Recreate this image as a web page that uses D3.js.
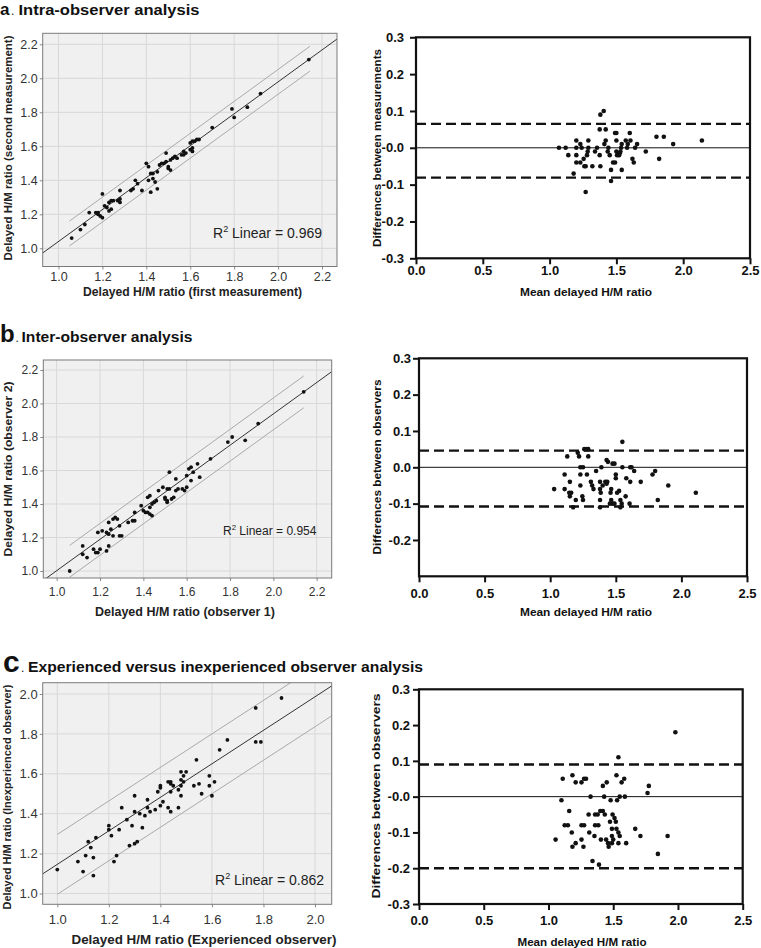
<!DOCTYPE html>
<html><head><meta charset="utf-8">
<script src="https://cdn.jsdelivr.net/npm/d3@7"></script>
<style>
body{margin:0;background:#fff}
svg{display:block}
text{font-family:"Liberation Sans",Arial,sans-serif}
</style>
</head><body>
<svg id="chart" width="761" height="948"></svg>
<script>
// ---------- DATA ----------
const scatterTicksAB = [1.0,1.2,1.4,1.6,1.8,2.0,2.2];
const scatterTicksC = [1.0,1.2,1.4,1.6,1.8,2.0];
const baXTicks = [0,0.5,1.0,1.5,2.0,2.5];
const baXLabels = ["0.0","0.5","1.0","1.5","2.0","2.5"];
const baYTicksAC = [0.3,0.2,0.1,0,-0.1,-0.2,-0.3];
const baYLabelsAC = ["0.3","0.2","0.1","-0.0","-0.1","-0.2","-0.3"];
const baYTicksB = [0.3,0.2,0.1,0,-0.1,-0.2];
const baYLabelsB = ["0.3","0.2","0.1","0.0","-0.1","-0.2"];

// panel a: intra-observer (first, second measurement)
const aScatter = [[1.06,1.06],[1.10,1.11],[1.12,1.14],[1.14,1.21],[1.17,1.21],[1.18,1.20],[1.19,1.19],[1.20,1.18],[1.18,1.21],[1.20,1.32],[1.21,1.25],[1.22,1.24],[1.23,1.27],[1.24,1.28],[1.23,1.22],[1.24,1.23],[1.25,1.28],[1.27,1.28],[1.28,1.34],[1.28,1.29],[1.28,1.27],[1.33,1.34],[1.34,1.35],[1.35,1.40],[1.36,1.38],[1.38,1.34],[1.40,1.50],[1.41,1.40],[1.41,1.48],[1.42,1.33],[1.42,1.44],[1.43,1.44],[1.43,1.41],[1.44,1.39],[1.45,1.35],[1.45,1.45],[1.46,1.49],[1.47,1.50],[1.48,1.50],[1.49,1.51],[1.49,1.56],[1.50,1.48],[1.50,1.47],[1.51,1.52],[1.51,1.46],[1.52,1.53],[1.53,1.54],[1.54,1.53],[1.56,1.55],[1.57,1.57],[1.57,1.55],[1.58,1.56],[1.60,1.58],[1.61,1.59],[1.61,1.57],[1.60,1.62],[1.61,1.63],[1.62,1.63],[1.63,1.64],[1.64,1.64],[1.70,1.71],[1.79,1.82],[1.80,1.77],[1.86,1.83],[1.92,1.91],[2.14,2.11]];
const aFit = [0.101, 0.939];          // intercept, slope
const aBand = [0.073, 1.05, 2.145];   // half width, x from, x to
const aR2 = "0.969";
const aBA = [[1.07,0.00],[1.12,0.00],[1.14,-0.02],[1.18,-0.07],[1.20,0.02],[1.20,0.00],[1.20,-0.02],[1.20,-0.04],[1.23,0.01],[1.24,0.00],[1.23,-0.04],[1.255,-0.03],[1.26,-0.05],[1.27,-0.05],[1.27,-0.12],[1.28,-0.02],[1.285,-0.01],[1.29,0.02],[1.29,0.00],[1.32,-0.05],[1.34,-0.01],[1.355,0.00],[1.375,0.05],[1.38,0.09],[1.405,0.10],[1.375,-0.02],[1.38,-0.05],[1.41,0.01],[1.42,0.02],[1.42,0.05],[1.435,-0.01],[1.44,0.00],[1.45,-0.02],[1.46,-0.06],[1.46,-0.09],[1.475,-0.04],[1.49,-0.04],[1.49,0.04],[1.50,0.04],[1.50,0.02],[1.50,-0.01],[1.505,-0.02],[1.52,-0.02],[1.525,-0.015],[1.53,-0.01],[1.535,0.00],[1.54,0.01],[1.54,-0.06],[1.57,0.02],[1.58,0.00],[1.585,0.01],[1.60,0.04],[1.605,0.02],[1.62,-0.03],[1.63,-0.04],[1.64,0.00],[1.655,0.01],[1.72,-0.01],[1.80,0.03],[1.855,0.03],[1.82,-0.03],[1.925,0.01],[2.14,0.02]];
const aLimits = [0.065, -0.081];

// panel b: inter-observer (observer 1, observer 2)
const bScatter = [[1.52,1.59],[1.12,1.15],[1.19,1.23],[1.21,1.24],[1.24,1.29],[1.26,1.31],[1.27,1.32],[1.28,1.31],[1.42,1.44],[1.43,1.45],[1.47,1.48],[1.49,1.50],[1.23,1.23],[1.25,1.25],[1.39,1.39],[1.55,1.55],[1.61,1.61],[1.62,1.62],[1.36,1.35],[1.29,1.27],[1.24,1.22],[1.12,1.10],[1.17,1.13],[1.26,1.21],[1.06,1.00],[1.14,1.08],[1.18,1.11],[1.20,1.13],[1.19,1.11],[1.24,1.15],[1.23,1.12],[1.29,1.21],[1.30,1.21],[1.33,1.29],[1.35,1.30],[1.36,1.30],[1.40,1.36],[1.41,1.35],[1.42,1.35],[1.43,1.34],[1.44,1.33],[1.43,1.38],[1.44,1.40],[1.45,1.41],[1.46,1.42],[1.50,1.43],[1.50,1.44],[1.51,1.42],[1.51,1.41],[1.53,1.43],[1.54,1.44],[1.52,1.49],[1.51,1.49],[1.55,1.48],[1.56,1.49],[1.58,1.49],[1.60,1.50],[1.59,1.48],[1.62,1.54],[1.60,1.57],[1.63,1.59],[1.66,1.56],[1.65,1.64],[1.71,1.67],[1.79,1.77],[1.81,1.80],[1.87,1.78],[1.93,1.88],[2.14,2.07]];
const bFit = [0.066, 0.936];
const bBand = [0.095, 1.06, 2.14];
const bR2 = "0.954";
const bBA = [[1.55,0.07],[1.13,0.03],[1.21,0.04],[1.22,0.03],[1.26,0.05],[1.28,0.05],[1.29,0.05],[1.29,0.03],[1.43,0.02],[1.44,0.015],[1.475,0.01],[1.49,0.01],[1.23,0],[1.25,0],[1.39,0],[1.55,0],[1.61,0],[1.62,0],[1.35,-0.01],[1.28,-0.02],[1.23,-0.02],[1.11,-0.02],[1.15,-0.04],[1.23,-0.05],[1.03,-0.06],[1.11,-0.06],[1.145,-0.07],[1.16,-0.07],[1.15,-0.08],[1.195,-0.09],[1.175,-0.11],[1.245,-0.08],[1.25,-0.09],[1.31,-0.04],[1.32,-0.05],[1.33,-0.06],[1.38,-0.04],[1.38,-0.06],[1.385,-0.07],[1.38,-0.09],[1.38,-0.11],[1.40,-0.05],[1.42,-0.04],[1.43,-0.045],[1.435,-0.04],[1.46,-0.07],[1.465,-0.06],[1.465,-0.09],[1.455,-0.10],[1.475,-0.10],[1.49,-0.10],[1.50,-0.03],[1.50,-0.02],[1.51,-0.07],[1.525,-0.065],[1.535,-0.09],[1.545,-0.10],[1.535,-0.11],[1.575,-0.08],[1.58,-0.03],[1.61,-0.04],[1.605,-0.10],[1.64,-0.01],[1.69,-0.04],[1.78,-0.02],[1.80,-0.01],[1.82,-0.09],[1.90,-0.05],[2.11,-0.07]];
const bLimits = [0.046, -0.108];

// panel c: experienced vs inexperienced observer
const cScatter = [[1.60,1.49],[1.14,1.09],[1.22,1.16],[1.23,1.19],[1.28,1.24],[1.30,1.25],[1.31,1.26],[1.44,1.41],[1.47,1.43],[1.56,1.50],[1.59,1.54],[1.61,1.56],[1.79,1.76],[1.77,1.76],[1.10,1.11],[1.33,1.33],[1.43,1.43],[1.48,1.49],[1.53,1.54],[1.55,1.55],[1.59,1.59],[1.14,1.18],[1.08,1.16],[1.11,1.19],[1.13,1.23],[1.00,1.12],[1.12,1.26],[1.15,1.28],[1.21,1.29],[1.24,1.32],[1.20,1.32],[1.20,1.34],[1.29,1.34],[1.27,1.37],[1.34,1.39],[1.36,1.41],[1.32,1.40],[1.35,1.43],[1.30,1.41],[1.25,1.43],[1.30,1.49],[1.38,1.42],[1.40,1.44],[1.41,1.46],[1.35,1.47],[1.39,1.51],[1.40,1.53],[1.44,1.51],[1.45,1.54],[1.40,1.54],[1.43,1.56],[1.44,1.55],[1.44,1.56],[1.47,1.52],[1.48,1.54],[1.49,1.56],[1.48,1.57],[1.49,1.59],[1.50,1.61],[1.48,1.61],[1.54,1.67],[1.63,1.72],[1.66,1.77],[1.77,1.93],[1.87,1.98]];
const cFit = [0.306, 0.84];
const cBand = [0.15, 1.0, 2.07];
const cR2 = "0.862";
const cBA = [[1.98,0.18],[1.54,0.11],[1.11,0.05],[1.185,0.06],[1.21,0.04],[1.255,0.04],[1.275,0.05],[1.29,0.05],[1.42,0.03],[1.45,0.04],[1.525,0.06],[1.565,0.04],[1.585,0.05],[1.775,0.03],[1.765,0.01],[1.10,-0.01],[1.325,0.0],[1.43,0.0],[1.48,-0.01],[1.53,-0.01],[1.55,0],[1.59,0],[1.16,-0.04],[1.125,-0.08],[1.15,-0.08],[1.18,-0.10],[1.055,-0.12],[1.185,-0.14],[1.21,-0.13],[1.255,-0.08],[1.275,-0.08],[1.255,-0.12],[1.27,-0.14],[1.31,-0.05],[1.315,-0.10],[1.36,-0.05],[1.38,-0.05],[1.36,-0.08],[1.385,-0.08],[1.355,-0.11],[1.34,-0.18],[1.39,-0.19],[1.40,-0.04],[1.42,-0.04],[1.435,-0.05],[1.405,-0.12],[1.445,-0.12],[1.46,-0.13],[1.475,-0.07],[1.49,-0.09],[1.465,-0.14],[1.49,-0.13],[1.49,-0.11],[1.50,-0.12],[1.495,-0.05],[1.51,-0.06],[1.52,-0.07],[1.525,-0.09],[1.54,-0.10],[1.55,-0.11],[1.54,-0.13],[1.60,-0.13],[1.67,-0.09],[1.71,-0.11],[1.845,-0.16],[1.92,-0.11]];
const cLimits = [0.09, -0.20];

// ---------- DRAWING ----------
const svg = d3.select("#chart");
const defs = svg.append("defs");
const FONT = '"Liberation Sans",Arial,sans-serif';

function panelTitle(letter, text, y, letterSize, letterX, dotX, textX, textW) {
  svg.append("text").attr("x", letterX).attr("y", y).attr("font-size", letterSize)
    .attr("font-weight", "bold").attr("fill", "#111").text(letter);
  svg.append("text").attr("x", dotX).attr("y", y).attr("font-size", 12)
    .attr("fill", "#111").text(".");
  svg.append("text").attr("x", textX).attr("y", y).attr("font-size", 15.5)
    .attr("font-weight", "bold").attr("fill", "#111")
    .attr("textLength", textW).attr("lengthAdjust", "spacingAndGlyphs").text(text);
}

function scatterPanel(o) {
  const g = svg.append("g");
  const xs = d3.scaleLinear().domain(o.xd).range(o.xr);
  const ys = d3.scaleLinear().domain(o.yd).range(o.yr);
  const b = o.box;
  defs.append("clipPath").attr("id", "clip" + o.id).append("rect")
    .attr("x", b.x0).attr("y", b.y0).attr("width", b.x1 - b.x0).attr("height", b.y1 - b.y0);
  g.append("rect").attr("x", b.x0).attr("y", b.y0).attr("width", b.x1 - b.x0)
    .attr("height", b.y1 - b.y0).attr("fill", "#f0f0f0");
  g.append("g").selectAll("line").data(o.ticks).join("line")
    .attr("x1", d => xs(d)).attr("x2", d => xs(d)).attr("y1", b.y0).attr("y2", b.y1)
    .attr("stroke", "#d8d8d8").attr("stroke-width", 1);
  g.append("g").selectAll("line").data(o.ticks).join("line")
    .attr("y1", d => ys(d)).attr("y2", d => ys(d)).attr("x1", b.x0).attr("x2", b.x1)
    .attr("stroke", "#d8d8d8").attr("stroke-width", 1);

  const fmt = d3.format(".1f");
  const ax = g.append("g").attr("transform", `translate(0,${b.y1})`)
    .call(d3.axisBottom(xs).tickValues(o.ticks).tickFormat(fmt).tickSize(3).tickPadding(o.xpad));
  const ay = g.append("g").attr("transform", `translate(${b.x0},0)`)
    .call(d3.axisLeft(ys).tickValues(o.ticks).tickFormat(fmt).tickSize(3).tickPadding(2));
  [ax, ay].forEach(a => {
    a.select(".domain").remove();
    a.selectAll(".tick line").attr("stroke", "#888");
    a.selectAll(".tick text").attr("font-size", o.tickFont).attr("fill", "#333")
      .attr("font-family", FONT);
  });

  const cg = g.append("g").attr("clip-path", `url(#clip${o.id})`);
  const fx0 = xs.invert(b.x0), fx1 = xs.invert(b.x1);
  const fit = x => o.fit[0] + o.fit[1] * x;
  cg.append("line").attr("x1", xs(fx0)).attr("y1", ys(fit(fx0)))
    .attr("x2", xs(fx1)).attr("y2", ys(fit(fx1)))
    .attr("stroke", "#333").attr("stroke-width", 1);
  [1, -1].forEach(s => {
    cg.append("line")
      .attr("x1", xs(o.band[1])).attr("y1", ys(fit(o.band[1]) + s * o.band[0]))
      .attr("x2", xs(o.band[2])).attr("y2", ys(fit(o.band[2]) + s * o.band[0]))
      .attr("stroke", "#a9a9a9").attr("stroke-width", 1);
  });
  cg.selectAll("circle").data(o.data).join("circle")
    .attr("cx", d => xs(d[0])).attr("cy", d => ys(d[1])).attr("r", 1.9).attr("fill", "#111");

  g.append("rect").attr("x", b.x0).attr("y", b.y0).attr("width", b.x1 - b.x0)
    .attr("height", b.y1 - b.y0).attr("fill", "none").attr("stroke", "#7a7a7a").attr("stroke-width", 1);

  const r2 = g.append("text").attr("x", o.r2pos[0]).attr("y", o.r2pos[1])
    .attr("font-size", o.r2size).attr("fill", "#222");
  r2.append("tspan").text("R");
  r2.append("tspan").attr("font-size", o.r2size * 0.65).attr("dy", -o.r2size * 0.4).text("2");
  r2.append("tspan").attr("dy", o.r2size * 0.4).text(" Linear = " + o.r2);

  g.append("text").attr("x", o.xt[0]).attr("y", o.xt[1]).attr("font-size", 12)
    .attr("font-weight", "bold").attr("fill", "#222").attr("text-anchor", "middle")
    .attr("textLength", o.xt[2]).attr("lengthAdjust", "spacingAndGlyphs").text(o.xtitle);
  g.append("text").attr("transform", `translate(${o.yt[0]},${o.yt[1]}) rotate(-90)`)
    .attr("font-size", 11.5).attr("font-weight", "bold").attr("fill", "#222")
    .attr("text-anchor", "middle").attr("dy", "0.35em")
    .attr("textLength", o.yt[2]).attr("lengthAdjust", "spacingAndGlyphs").text(o.ytitle);
}

function baPanel(o) {
  const g = svg.append("g");
  const xs = d3.scaleLinear().domain([0, 2.5]).range(o.xr);
  const ys = d3.scaleLinear().domain([-0.3, 0.3]).range(o.yr);
  const X0 = xs(0), X1 = xs(2.5), Y0 = ys(0.3), Y1 = ys(-0.3);
  g.append("line").attr("x1", X0).attr("x2", X1).attr("y1", ys(0)).attr("y2", ys(0))
    .attr("stroke", "#111").attr("stroke-width", 1);
  g.selectAll(".lim").data(o.limits).join("line")
    .attr("x1", X0).attr("x2", X1).attr("y1", d => ys(d)).attr("y2", d => ys(d))
    .attr("stroke", "#111").attr("stroke-width", 2.4).attr("stroke-dasharray", "10,5");
  g.selectAll("circle").data(o.data).join("circle")
    .attr("cx", d => xs(d[0])).attr("cy", d => ys(d[1])).attr("r", 2.3).attr("fill", "#111");
  g.append("rect").attr("x", X0).attr("y", Y0).attr("width", X1 - X0).attr("height", Y1 - Y0)
    .attr("fill", "none").attr("stroke", "#111").attr("stroke-width", 2.2);

  const ay = g.append("g").attr("transform", `translate(${X0},0)`)
    .call(d3.axisLeft(ys).tickValues(o.yticks).tickFormat((d, i) => o.ylabels[i])
      .tickSize(6).tickPadding(o.ypad));
  const ax = g.append("g").attr("transform", `translate(0,${Y1})`)
    .call(d3.axisBottom(xs).tickValues(baXTicks).tickFormat((d, i) => baXLabels[i])
      .tickSize(6).tickPadding(o.xpad));
  [ax, ay].forEach(a => {
    a.select(".domain").remove();
    a.selectAll(".tick line").attr("stroke", "#111").attr("stroke-width", 2);
    a.selectAll(".tick text").attr("font-size", 13).attr("font-weight", "bold")
      .attr("fill", "#111").attr("font-family", FONT);
  });
  g.append("text").attr("x", o.xt[0]).attr("y", o.xt[1]).attr("font-size", 11.5)
    .attr("font-weight", "bold").attr("fill", "#111").attr("text-anchor", "middle")
    .attr("textLength", o.xt[2]).attr("lengthAdjust", "spacingAndGlyphs").text("Mean delayed H/M ratio");
  g.append("text").attr("transform", `translate(${o.yt[0]},${o.yt[1]}) rotate(-90)`)
    .attr("font-size", 11.5).attr("font-weight", "bold").attr("fill", "#111")
    .attr("text-anchor", "middle").attr("dy", "0.35em")
    .attr("textLength", o.yt[2]).attr("lengthAdjust", "spacingAndGlyphs").text(o.ytitle);
}

// titles
panelTitle("a", "Intra-observer analysis", 15, 17, 0, 11, 18.5, 181);
panelTitle("b", "Inter-observer analysis", 342, 24, 0, 15.5, 21.5, 171);
panelTitle("c", "Experienced versus inexperienced observer analysis", 672, 30, 3, 21, 28, 395);

// panel a
scatterPanel({id: "a", data: aScatter, fit: aFit, band: aBand, r2: aR2, ticks: scatterTicksAB,
  xd: [1.0, 2.2], xr: [58.5, 322], yd: [1.0, 2.2], yr: [248.3, 44.3],
  box: {x0: 42.7, x1: 337, y0: 33.3, y1: 266.5}, xpad: 3, tickFont: 12.5,
  r2pos: [213, 237.5], r2size: 14,
  xt: [192.5, 296, 219], xtitle: "Delayed H/M ratio (first measurement)",
  yt: [7.5, 148, 225], ytitle: "Delayed H/M ratio (second measurement)"});
baPanel({data: aBA, limits: aLimits, xr: [416, 750], yr: [258.3, 37.3],
  yticks: baYTicksAC, ylabels: baYLabelsAC, ypad: 6, xpad: 1,
  xt: [586, 296, 132], yt: [377, 148, 198], ytitle: "Differences between measurements"});

// panel b
scatterPanel({id: "b", data: bScatter, fit: bFit, band: bBand, r2: bR2, ticks: scatterTicksAB,
  xd: [1.0, 2.2], xr: [56.7, 316.7], yd: [1.0, 2.2], yr: [571, 370],
  box: {x0: 43.3, x1: 331.7, y0: 360, y1: 578}, xpad: 6, tickFont: 12,
  r2pos: [223, 534.5], r2size: 12,
  xt: [185, 616, 180], xtitle: "Delayed H/M ratio (observer 1)",
  yt: [8, 469, 175], ytitle: "Delayed H/M ratio (observer 2)"});
baPanel({data: bBA, limits: bLimits, xr: [419, 747], yr: [576.3, 358.3],
  yticks: baYTicksB, ylabels: baYLabelsB, ypad: 2, xpad: 6,
  xt: [586, 616, 132], yt: [377, 467, 175], ytitle: "Differences between observers"});

// panel c
scatterPanel({id: "c", data: cScatter, fit: cFit, band: cBand, r2: cR2, ticks: scatterTicksC,
  xd: [1.0, 2.0], xr: [57.3, 315], yd: [1.0, 2.0], yr: [893.5, 694],
  box: {x0: 42.7, x1: 331.7, y0: 682.7, y1: 904.3}, xpad: 7, tickFont: 13,
  r2pos: [215, 885], r2size: 14,
  xt: [204, 944, 265], xtitle: "Delayed H/M ratio (Experienced observer)",
  yt: [7, 797, 225], ytitle: "Delayed H/M ratio (Inexperienced observer)"});
baPanel({data: cBA, limits: cLimits, xr: [419, 742.7], yr: [904, 689.3],
  yticks: baYTicksAC, ylabels: baYLabelsAC, ypad: 3, xpad: 6,
  xt: [582, 946, 129], yt: [376, 796, 205], ytitle: "Differences between observers"});
</script>
</body></html>
